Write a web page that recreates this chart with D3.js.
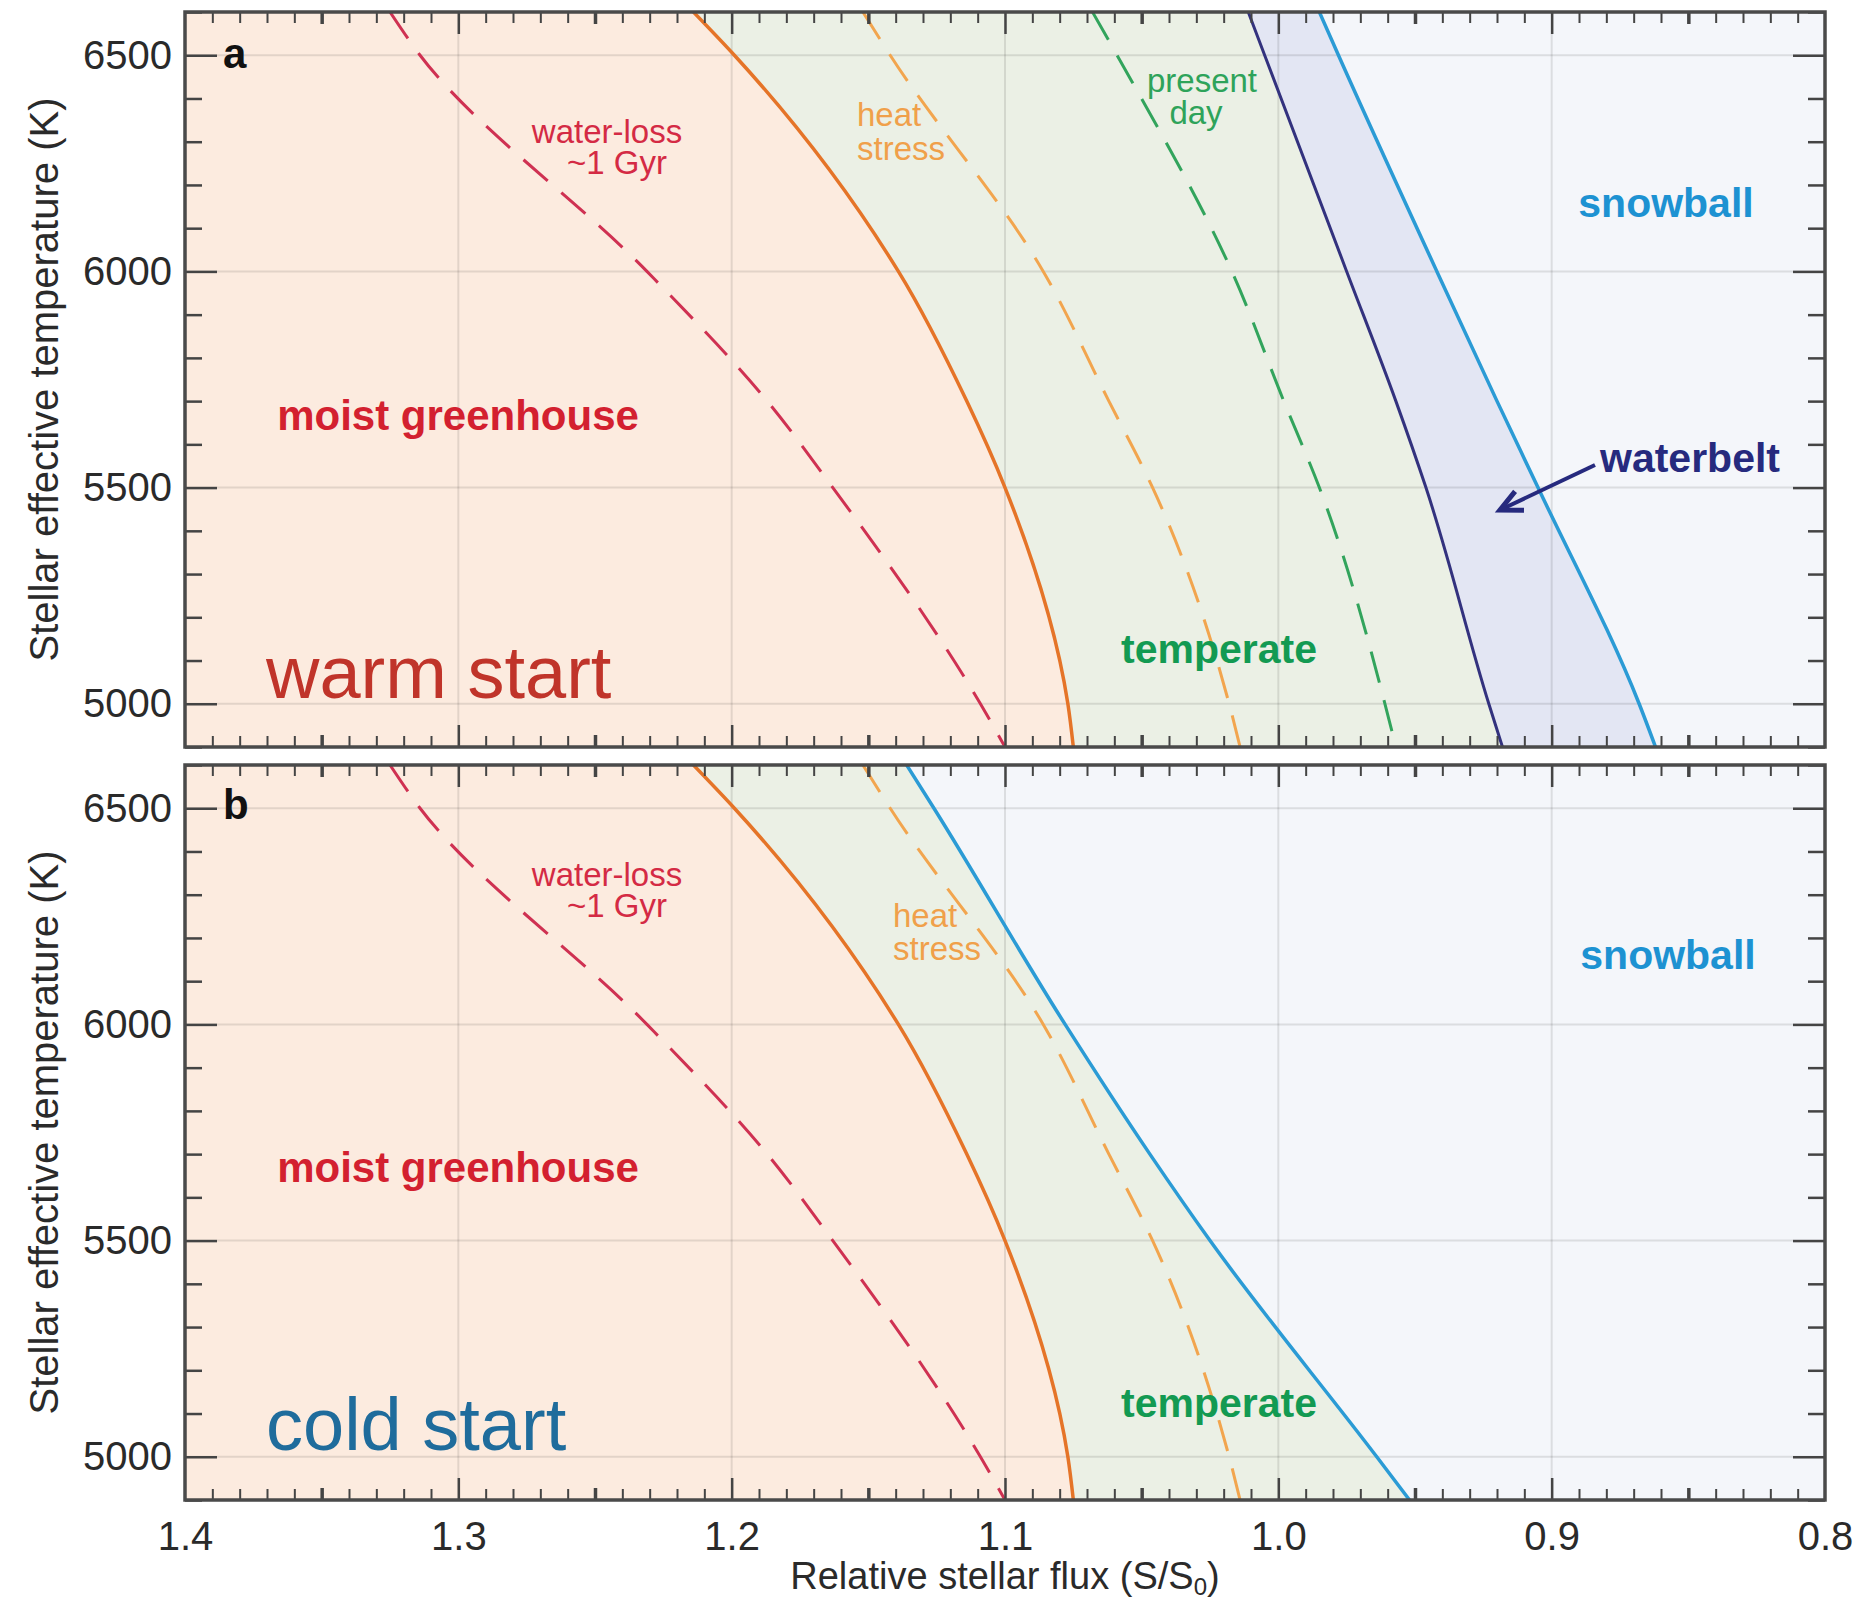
<!DOCTYPE html>
<html>
<head>
<meta charset="utf-8">
<script src="https://cdn.jsdelivr.net/npm/d3@7"></script>
<style>
	body { margin: 0; background: #fff; }
	svg text { font-family: "Liberation Sans", Arial, Helvetica, sans-serif; }
</style>
</head>
<body>
<svg id="chart"></svg>
<script>
// stellar effective temperatures (K) where the boundaries were read
const tempLevels = [6600, 6500, 6000, 5700, 5500, 5000, 4900];

// relative stellar flux S/S0 of each boundary at those temperatures
const waterLoss = [1.325, 1.314, 1.231, 1.187, 1.163, 1.109, 1.1];
const moistLimit = [1.214, 1.199, 1.139, 1.114, 1.1, 1.077, 1.075];
const heatStress = [1.152, 1.142, 1.086, 1.062, 1.046, 1.018, 1.014];
const presentDay = [1.068, 1.059, 1.017, 0.998, 0.985, 0.961, 0.957];
const waterbeltEdge = [1.011, 1.005, 0.975, 0.957, 0.946, 0.923, 0.918];
const snowballWarm = [0.985, 0.978, 0.942, 0.92, 0.905, 0.868, 0.862];
const snowballCold = [1.136, 1.126, 1.078, 1.047, 1.025, 0.964, 0.952];

// axis tick labels
const xTicks = [1.4, 1.3, 1.2, 1.1, 1.0, 0.9, 0.8];
const yTicks = [5000, 5500, 6000, 6500];

const W = 1861;
const H = 1605;
const left = 185;
const right = 1825;
const panelH = 735;

const svg = d3.select("#chart").attr("width", W).attr("height", H);

const x = d3.scaleLinear().domain([1.4, 0.8]).range([left, right]);
const y = d3.scaleLinear().domain([4900, 6600]).range([panelH, 0]);

// turn a flux list into points along the temperature levels
const pts = (arr) => tempLevels.map((t, i) => ({ t: t, s: arr[i] }));

// curves are functions of temperature, so interpolate along y
const curve = d3.curveMonotoneY;

const line = d3.line()
	.x((d) => x(d.s))
	.y((d) => y(d.t))
	.curve(curve);

const area = d3.area()
	.x0(x(1.4))
	.x1((d) => x(d.s))
	.y((d) => y(d.t))
	.curve(curve);

const colors = {
	peach: "#fcebdf",
	green: "#ebf0e5",
	lavender: "#e3e6f3",
	ice: "#f4f6fa",
};

const panels = [
	{
		key: "a",
		top: 12,
		fills: [
			{ edge: snowballWarm, color: colors.lavender },
			{ edge: waterbeltEdge, color: colors.green },
			{ edge: moistLimit, color: colors.peach },
		],
		lines: [
			{ data: waterLoss, color: "#cf3152", dash: "32,18", width: 3 },
			{ data: moistLimit, color: "#e57428", dash: null, width: 3.5 },
			{ data: heatStress, color: "#f2a54e", dash: "32,18", width: 3 },
			{ data: presentDay, color: "#32a45c", dash: "32,18", width: 3 },
			{ data: waterbeltEdge, color: "#33327e", dash: null, width: 3 },
			{ data: snowballWarm, color: "#2b9bd5", dash: null, width: 3.5 },
		],
		labels: [
			{ text: "a", x: 223, y: 56, size: 42, weight: "bold", color: "#111", anchor: "start" },
			{ text: "water-loss", x: 607, y: 131, size: 33, color: "#d42a44" },
			{ text: "~1 Gyr", x: 617, y: 162, size: 33, color: "#d42a44" },
			{ text: "heat", x: 857, y: 114, size: 33, color: "#f0a04a", anchor: "start" },
			{ text: "stress", x: 857, y: 148, size: 33, color: "#f0a04a", anchor: "start" },
			{ text: "present", x: 1202, y: 80, size: 33, color: "#2ea35a" },
			{ text: "day", x: 1196, y: 112, size: 33, color: "#2ea35a" },
			{ text: "snowball", x: 1666, y: 205, size: 41, weight: "bold", color: "#1d92d2" },
			{ text: "moist greenhouse", x: 458, y: 418, size: 42, weight: "bold", color: "#d3202f" },
			{ text: "waterbelt", x: 1600, y: 460, size: 41, weight: "bold", color: "#262a7e", anchor: "start" },
			{ text: "temperate", x: 1219, y: 651, size: 41, weight: "bold", color: "#139a52" },
			{ text: "warm start", x: 266, y: 686, size: 74, color: "#c0342a", anchor: "start" },
		],
		arrow: { from: [1595, 453], to: [1500, 498] },
	},
	{
		key: "b",
		top: 765,
		fills: [
			{ edge: snowballCold, color: colors.green },
			{ edge: moistLimit, color: colors.peach },
		],
		lines: [
			{ data: waterLoss, color: "#cf3152", dash: "32,18", width: 3 },
			{ data: moistLimit, color: "#e57428", dash: null, width: 3.5 },
			{ data: heatStress, color: "#f2a54e", dash: "32,18", width: 3 },
			{ data: snowballCold, color: "#2b9bd5", dash: null, width: 3.5 },
		],
		labels: [
			{ text: "b", x: 223, y: 54, size: 42, weight: "bold", color: "#111", anchor: "start" },
			{ text: "water-loss", x: 607, y: 121, size: 33, color: "#d42a44" },
			{ text: "~1 Gyr", x: 617, y: 152, size: 33, color: "#d42a44" },
			{ text: "heat", x: 893, y: 162, size: 33, color: "#f0a04a", anchor: "start" },
			{ text: "stress", x: 893, y: 195, size: 33, color: "#f0a04a", anchor: "start" },
			{ text: "snowball", x: 1668, y: 204, size: 41, weight: "bold", color: "#1d92d2" },
			{ text: "moist greenhouse", x: 458, y: 417, size: 42, weight: "bold", color: "#d3202f" },
			{ text: "temperate", x: 1219, y: 652, size: 41, weight: "bold", color: "#139a52" },
			{ text: "cold start", x: 266, y: 685, size: 74, color: "#1f6c9c", anchor: "start" },
		],
	},
];

// small helper to style tick groups
function styleTicks(g, width) {
	g.select(".domain").remove();
	g.selectAll(".tick line").attr("stroke", "#444").attr("stroke-width", width);
	g.selectAll(".tick text")
		.attr("fill", "#2a2a2a")
		.style("font-size", "40px")
		.style("font-family", '"Liberation Sans", Arial, sans-serif');
}

panels.forEach((p, idx) => {
	const g = svg.append("g").attr("transform", `translate(0, ${p.top})`);
	const clipId = "clip-" + p.key;

	g.append("clipPath")
		.attr("id", clipId)
		.append("rect")
		.attr("x", left)
		.attr("y", 0)
		.attr("width", right - left)
		.attr("height", panelH);

	const body = g.append("g").attr("clip-path", `url(#${clipId})`);

	// background = snowball colour, then regions stacked from the right
	body.append("rect")
		.attr("x", left)
		.attr("y", 0)
		.attr("width", right - left)
		.attr("height", panelH)
		.attr("fill", colors.ice);

	p.fills.forEach((f) => {
		body.append("path").datum(pts(f.edge)).attr("d", area).attr("fill", f.color);
	});

	// grid lines
	body.selectAll(".vgrid")
		.data(xTicks.slice(1, -1))
		.enter()
		.append("line")
		.attr("x1", (d) => x(d))
		.attr("x2", (d) => x(d))
		.attr("y1", 0)
		.attr("y2", panelH)
		.attr("stroke", "#000")
		.attr("stroke-opacity", 0.1)
		.attr("stroke-width", 2);
	body.selectAll(".hgrid")
		.data(yTicks)
		.enter()
		.append("line")
		.attr("x1", left)
		.attr("x2", right)
		.attr("y1", (d) => y(d))
		.attr("y2", (d) => y(d))
		.attr("stroke", "#000")
		.attr("stroke-opacity", 0.1)
		.attr("stroke-width", 2);

	// boundary curves
	p.lines.forEach((l) => {
		body.append("path")
			.datum(pts(l.data))
			.attr("d", line)
			.attr("fill", "none")
			.attr("stroke", l.color)
			.attr("stroke-width", l.width)
			.attr("stroke-dasharray", l.dash);
	});

	// ticks, all pointing inward
	const xMinor = x.ticks(60).filter((v) => Math.round(v * 100) % 5 !== 0);
	const xMid = x.ticks(12).filter((v) => Math.round(v * 100) % 10 !== 0);
	const yMinor = y.ticks(17).filter((v) => v % 500 !== 0);

	[
		{ axis: d3.axisBottom(x).tickValues(xMinor).tickSize(-11), w: 2, t: panelH },
		{ axis: d3.axisBottom(x).tickValues(xMid).tickSize(-12), w: 3.5, t: panelH },
		{ axis: d3.axisTop(x).tickValues(xMinor).tickSize(-11), w: 2, t: 0 },
		{ axis: d3.axisTop(x).tickValues(xMid).tickSize(-12), w: 3.5, t: 0 },
		{ axis: d3.axisTop(x).tickValues(xTicks.slice(1, -1)).tickSize(-22), w: 2.5, t: 0 },
	].forEach((a) => {
		const ax = g.append("g").attr("transform", `translate(0, ${a.t})`).call(a.axis.tickFormat(""));
		styleTicks(ax, a.w);
	});

	// bottom major ticks, with labels only on the lower panel
	const xMajor = d3.axisBottom(x)
		.tickValues(xTicks.slice(1, -1))
		.tickSize(-22)
		.tickPadding(22)
		.tickFormat(idx === 1 ? d3.format(".1f") : "");
	styleTicks(g.append("g").attr("transform", `translate(0, ${panelH})`).call(xMajor), 2.5);

	if (idx === 1) {
		// end labels 1.4 and 0.8 sit on the frame corners
		const xEnds = d3.axisBottom(x).tickValues([1.4, 0.8]).tickSize(0).tickPadding(22).tickFormat(d3.format(".1f"));
		styleTicks(g.append("g").attr("transform", `translate(0, ${panelH})`).call(xEnds), 0);
	}

	const yMajorL = d3.axisLeft(y).tickValues(yTicks).tickSize(-32).tickPadding(13).tickFormat(d3.format("d"));
	styleTicks(g.append("g").attr("transform", `translate(${left}, 0)`).call(yMajorL), 2.5);
	styleTicks(g.append("g").attr("transform", `translate(${left}, 0)`).call(d3.axisLeft(y).tickValues(yMinor).tickSize(-17).tickFormat("")), 2.5);
	styleTicks(g.append("g").attr("transform", `translate(${right}, 0)`).call(d3.axisRight(y).tickValues(yTicks).tickSize(-32).tickFormat("")), 2.5);
	styleTicks(g.append("g").attr("transform", `translate(${right}, 0)`).call(d3.axisRight(y).tickValues(yMinor).tickSize(-17).tickFormat("")), 2.5);

	// frame
	g.append("rect")
		.attr("x", left)
		.attr("y", 0)
		.attr("width", right - left)
		.attr("height", panelH)
		.attr("fill", "none")
		.attr("stroke", "#4a4a4a")
		.attr("stroke-width", 3.5);

	// region and curve labels
	p.labels.forEach((lb) => {
		g.append("text")
			.attr("x", lb.x)
			.attr("y", lb.y)
			.attr("text-anchor", lb.anchor || "middle")
			.attr("fill", lb.color)
			.style("font-size", lb.size + "px")
			.style("font-weight", lb.weight || "normal")
			.text(lb.text);
	});

	if (p.arrow) {
		const [x0, y0] = p.arrow.from;
		const [x1, y1] = p.arrow.to;
		const ang = Math.atan2(y1 - y0, x1 - x0);
		const len = 24;
		const head = [
			[x1 - len * Math.cos(ang - 0.45), y1 - len * Math.sin(ang - 0.45)],
			[x1, y1],
			[x1 - len * Math.cos(ang + 0.45), y1 - len * Math.sin(ang + 0.45)],
		];
		g.append("line")
			.attr("x1", x0).attr("y1", y0).attr("x2", x1).attr("y2", y1)
			.attr("stroke", "#262a7e").attr("stroke-width", 4);
		g.append("polyline")
			.attr("points", head.map((d) => d.join(",")).join(" "))
			.attr("fill", "none")
			.attr("stroke", "#262a7e")
			.attr("stroke-width", 5)
			.attr("stroke-linejoin", "miter");
	}

	// y axis title for each panel
	svg.append("text")
		.attr("transform", `translate(58, ${p.top + panelH / 2}) rotate(-90)`)
		.attr("text-anchor", "middle")
		.attr("fill", "#2a2a2a")
		.style("font-size", "40px")
		.text("Stellar effective temperature (K)");
});

// x axis title
const xt = svg.append("text")
	.attr("x", (left + right) / 2)
	.attr("y", 1589)
	.attr("text-anchor", "middle")
	.attr("fill", "#2a2a2a")
	.style("font-size", "38px");
xt.append("tspan").text("Relative stellar flux (S/S");
xt.append("tspan").attr("dy", 6).style("font-size", "24px").text("0");
xt.append("tspan").attr("dy", -6).text(")");
</script>
</body>
</html>
